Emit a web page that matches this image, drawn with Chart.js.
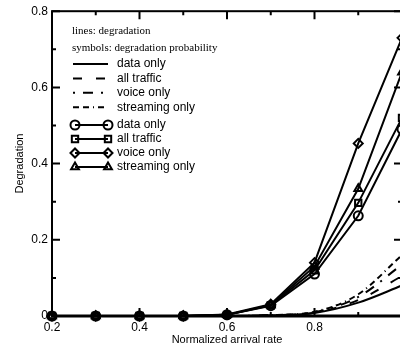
<!DOCTYPE html>
<html>
<head>
<meta charset="utf-8">
<script src="https://cdn.jsdelivr.net/npm/chart.js@4/dist/chart.umd.min.js"></script>
<style>
  html, body { margin: 0; padding: 0; overflow: hidden; background: #fff; }
  #wrap { position: absolute; left: 0; top: 0; width: 412px; height: 349px; }
</style>
</head>
<body>
<div id="wrap"><canvas id="chart"></canvas></div>
<script>
  // normalized arrival rate
  const rates = [0.2, 0.3, 0.4, 0.5, 0.6, 0.7, 0.8, 0.9, 1.0];

  // lines: degradation
  const degData   = [0, 0, 0, 0, 0, 0.002, 0.008, 0.035, 0.08];
  const degAll    = [0, 0, 0, 0, 0, 0.002, 0.009, 0.042, 0.105];
  const degVoice  = [0, 0, 0, 0, 0, 0.002, 0.010, 0.050, 0.135];
  const degStream = [0, 0, 0, 0, 0, 0.002, 0.011, 0.057, 0.16];

  // symbols: degradation probability
  const probData   = [0, 0, 0, 0, 0.003, 0.027, 0.11, 0.263, 0.49];
  const probAll    = [0, 0, 0, 0, 0.003, 0.028, 0.12, 0.297, 0.52];
  const probVoice  = [0, 0, 0, 0, 0.004, 0.031, 0.14, 0.453, 0.73];
  const probStream = [0, 0, 0, 0, 0.003, 0.029, 0.13, 0.334, 0.64];

  const xTicks = [0.2, 0.4, 0.6, 0.8];
  const yTicks = [0, 0.2, 0.4, 0.6, 0.8];

  const pts = arr => arr.map((v, i) => ({ x: rates[i], y: v }));

  const lineSet = (label, arr, dash) => ({
    label: label, data: pts(arr), borderColor: '#000', borderWidth: 2,
    borderDash: dash, pointRadius: 0, fill: false, clip: false,
    cubicInterpolationMode: 'monotone'
  });
  const markSet = (label, arr, style) => ({
    label: label, data: pts(arr), borderColor: '#000', borderWidth: 2,
    pointStyle: style, pointRadius: 4.5, pointBorderWidth: 2,
    pointBackgroundColor: 'rgba(0,0,0,0)', pointBorderColor: '#000',
    fill: false, clip: false, tension: 0
  });

  const lineSets = [
    lineSet('data only', degData, []),
    lineSet('all traffic', degAll, [9, 14]),
    lineSet('voice only', degVoice, [2, 8, 10, 8]),
    lineSet('streaming only', degStream, [6, 4, 6, 4, 1, 4])
  ];
  const markSets = [
    markSet('data only', probData, 'circle'),
    markSet('all traffic', probAll, 'rect'),
    markSet('voice only', probVoice, 'rectRot'),
    markSet('streaming only', probStream, 'triangle')
  ];

  const sans = '"Liberation Sans", Arial, sans-serif';
  const serif = '"Liberation Serif", "Times New Roman", serif';

  const frame = {
    id: 'frame',
    beforeDatasetsDraw(chart) {
      const ctx = chart.ctx;
      const { left, right, top, bottom } = chart.chartArea;
      const xs = chart.scales.x, ys = chart.scales.y;
      ctx.save();
      ctx.strokeStyle = '#000';
      ctx.lineWidth = 2;
      ctx.strokeRect(left, top, right - left, bottom - top);
      ctx.beginPath();
      ctx.lineWidth = 3;
      ctx.moveTo(left - 1, bottom); ctx.lineTo(right, bottom);
      ctx.stroke();
      ctx.lineWidth = 2;
      ctx.beginPath();
      for (let k = 0; k <= 8; k++) {
        const py = ys.getPixelForValue(k / 10);
        const len = k % 2 === 0 ? 8 : 4;
        ctx.moveTo(left, py); ctx.lineTo(left + len, py);
        ctx.moveTo(right, py); ctx.lineTo(right - len, py);
      }
      for (let k = 2; k <= 10; k++) {
        const px = xs.getPixelForValue(k / 10);
        const len = k % 2 === 0 ? 8 : 4;
        ctx.moveTo(px, bottom); ctx.lineTo(px, bottom - len);
        ctx.moveTo(px, top); ctx.lineTo(px, top + len);
      }
      ctx.stroke();
      ctx.restore();
    },
    afterDraw(chart) {
      const ctx = chart.ctx;
      ctx.save();
      ctx.fillStyle = '#000';
      ctx.strokeStyle = '#000';
      ctx.textBaseline = 'middle';
      ctx.font = '11px ' + serif;
      ctx.fillText('lines: degradation', 72, 31);
      ctx.fillText('symbols: degradation probability', 72, 48);
      ctx.font = '12px ' + sans;
      lineSets.forEach((ds, i) => {
        const y = 64 + i * 14.4;
        ctx.lineWidth = 2;
        ctx.setLineDash(ds.borderDash);
        ctx.beginPath();
        ctx.moveTo(73, y); ctx.lineTo(108, y);
        ctx.stroke();
        ctx.setLineDash([]);
        ctx.fillText(ds.label, 117, y);
      });
      markSets.forEach((ds, i) => {
        const y = 125 + i * 14;
        ctx.lineWidth = 2;
        ctx.beginPath();
        ctx.moveTo(75, y); ctx.lineTo(108, y);
        ctx.stroke();
        const opt = { pointStyle: ds.pointStyle, radius: 4.5, borderWidth: 2, rotation: 0 };
        ctx.fillStyle = 'rgba(0,0,0,0)';
        Chart.helpers.drawPoint(ctx, opt, 75, y);
        Chart.helpers.drawPoint(ctx, opt, 108, y);
        ctx.fillStyle = '#000';
        ctx.fillText(ds.label, 117, y);
      });
      ctx.restore();
    }
  };

  new Chart(document.getElementById('chart'), {
    type: 'line',
    data: { datasets: lineSets.concat(markSets) },
    options: {
      responsive: true,
      maintainAspectRatio: false,
      animation: false,
      layout: { padding: { left: 0, right: 10, top: 11, bottom: 0 } },
      plugins: { legend: { display: false }, tooltip: { enabled: false } },
      scales: {
        x: {
          type: 'linear', min: 0.2, max: 1.0,
          afterBuildTicks: s => { s.ticks = xTicks.map(v => ({ value: v })); },
          afterFit: s => { s.height = 33; },
          grid: { display: false, drawTicks: false },
          border: { display: false },
          ticks: { color: '#000', padding: 4, font: { family: sans, size: 12 }, maxRotation: 0 },
          title: { display: true, text: 'Normalized arrival rate', color: '#000',
                   font: { family: sans, size: 11 }, padding: { top: 0, bottom: 2 } }
        },
        y: {
          min: 0, max: 0.8,
          afterBuildTicks: s => { s.ticks = yTicks.map(v => ({ value: v })); },
          afterFit: s => { s.width = 52; },
          grid: { display: false, drawTicks: false },
          border: { display: false },
          ticks: { color: '#000', padding: 4, font: { family: sans, size: 12 } },
          title: { display: true, text: 'Degradation', color: '#000',
                   font: { family: sans, size: 11 }, padding: { top: 13, bottom: 0 } }
        }
      }
    },
    plugins: [frame]
  });
</script>
</body>
</html>
